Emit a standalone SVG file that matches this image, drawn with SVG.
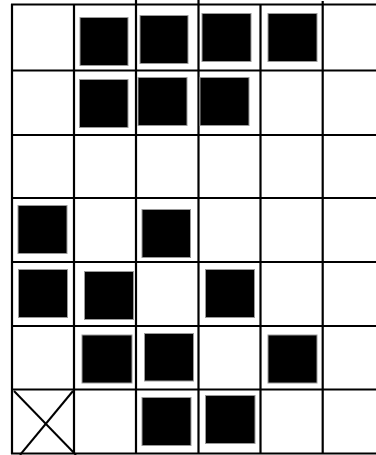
<svg xmlns="http://www.w3.org/2000/svg" width="376" height="455" viewBox="0 0 376 455">
<style>
.g{stroke:#000;stroke-width:2.2;fill:none}
.b{fill:#000;stroke:#999;stroke-width:1}
.x{stroke:#000;stroke-width:2;fill:none}
</style>
<rect x="0" y="0" width="376" height="455" fill="#fff"/>
<g id="grid" class="g">
<line x1="11" y1="4.5" x2="376" y2="4.5"/>
<line x1="11" y1="70.5" x2="376" y2="70.5"/>
<line x1="11" y1="135" x2="376" y2="135"/>
<line x1="11" y1="198" x2="376" y2="198"/>
<line x1="11" y1="262" x2="376" y2="262"/>
<line x1="11" y1="326" x2="376" y2="326"/>
<line x1="11" y1="389.5" x2="376" y2="389.5"/>
<line x1="11" y1="453.5" x2="376" y2="453.5"/>
<line x1="12" y1="4" x2="12" y2="454"/>
<line x1="74" y1="4" x2="74" y2="454"/>
<line x1="136" y1="0" x2="136" y2="454"/>
<line x1="198.5" y1="0" x2="198.5" y2="454"/>
<line x1="260.5" y1="5" x2="260.5" y2="454"/>
<line x1="322.7" y1="1" x2="322.7" y2="454"/>
</g>
<g id="cells" class="b">
<rect x="80" y="17.5" width="48" height="48"/>
<rect x="140" y="15.5" width="48" height="48"/>
<rect x="202" y="13.5" width="49" height="48"/>
<rect x="268" y="13.5" width="49" height="48"/>
<rect x="79.5" y="79.5" width="48.5" height="48"/>
<rect x="138" y="77.5" width="49" height="48"/>
<rect x="200" y="77.5" width="49" height="48"/>
<rect x="18" y="205.5" width="49" height="48"/>
<rect x="142" y="209.5" width="48.5" height="48"/>
<rect x="18.5" y="269.5" width="49" height="48"/>
<rect x="84.5" y="271.5" width="49" height="48"/>
<rect x="205.5" y="269.5" width="49" height="48"/>
<rect x="82" y="335" width="50" height="48"/>
<rect x="144.5" y="333.5" width="49" height="47.5"/>
<rect x="268" y="335" width="49" height="48"/>
<rect x="142" y="397.5" width="49" height="48"/>
<rect x="205.5" y="395.5" width="49.5" height="48"/>
</g>
<g id="cross" class="x">
<line x1="14" y1="391" x2="76" y2="455"/>
<line x1="73" y1="391" x2="20" y2="455"/>
</g>
</svg>
